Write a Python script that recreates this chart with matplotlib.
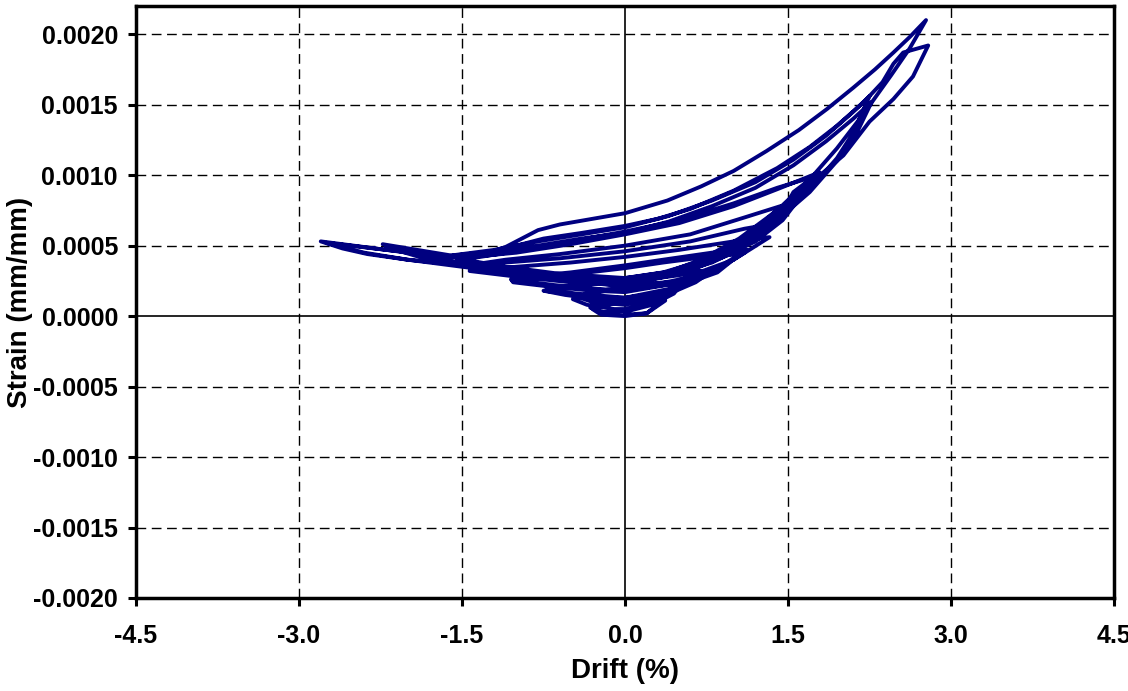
import matplotlib
matplotlib.use("Agg")
import matplotlib.pyplot as plt
import numpy as np

plt.rcParams['font.family'] = ['Liberation Sans', 'DejaVu Sans']
plt.rcParams['font.weight'] = 'bold'
plt.rcParams['axes.unicode_minus'] = False

# Drift (%) / strain (mm/mm) history, split by load stage
drift_s1 = [0.00, 0.20, 0.37, 0.30, 0.10, -0.10, -0.30, -0.22, 0.00, 0.20, 0.36, 0.25, 0.05, -0.15, -0.32, -0.20, 0.00]
strain_s1 = [0.00001, 0.00002, 0.00011, 0.00012, 0.00011, 0.00009, 0.00005, 0.00001, 0.00000, 0.00002, 0.00012, 0.00013,
             0.00012, 0.00010, 0.00006, 0.00003, 0.00003]

drift_s2 = [0.00, 0.25, 0.45, 0.52, 0.30, 0.00, -0.25, -0.48, -0.35, -0.10, 0.00, 0.25, 0.50, 0.40, 0.15, -0.15, -0.45,
            -0.30, 0.00]
strain_s2 = [0.00003, 0.00008, 0.00016, 0.00023, 0.00022, 0.00020, 0.00017, 0.00012, 0.00008, 0.00005, 0.00005, 0.00010,
             0.00023, 0.00024, 0.00023, 0.00019, 0.00014, 0.00010, 0.00008]

drift_s3 = [0.00, 0.35, 0.65, 0.78, 0.50, 0.20, -0.10, -0.45, -0.75, -0.55, -0.25, 0.00, 0.35, 0.65, 0.76, 0.45, 0.10,
            -0.30, -0.72, -0.45, -0.15, 0.00,
            0.35, 0.65, 0.77, 0.45, 0.10, -0.30, -0.74, -0.45, -0.15, 0.00]
strain_s3 = [0.00008, 0.00014, 0.00024, 0.00031, 0.00030, 0.00027, 0.00024, 0.00021, 0.00018, 0.00015, 0.00012, 0.00011,
             0.00016, 0.00026, 0.00032, 0.00032, 0.00028, 0.00024, 0.00019, 0.00016, 0.00014, 0.00013,
             0.00017, 0.00026, 0.00031, 0.00030, 0.00027, 0.00023, 0.00018, 0.00015, 0.00013, 0.00013]

drift_s4 = [0.00, 0.45, 0.85, 1.06, 0.75, 0.35, 0.00, -0.45, -0.85, -1.03, -0.70, -0.30, 0.00, 0.45, 0.85, 1.12, 0.80,
            0.35, 0.00, -0.50, -0.90, -1.05, -0.65, -0.25, 0.00,
            0.45, 0.85, 1.10, 0.80, 0.35, 0.00, -0.50, -0.90, -1.04, -0.65, -0.25, 0.00]
strain_s4 = [0.00013, 0.00020, 0.00031, 0.00044, 0.00042, 0.00038, 0.00034, 0.00030, 0.00026, 0.00024, 0.00021, 0.00018,
             0.00017, 0.00023, 0.00034, 0.00047, 0.00045, 0.00040, 0.00036, 0.00031, 0.00028, 0.00026, 0.00022, 0.00019,
             0.00018,
             0.00023, 0.00033, 0.00045, 0.00044, 0.00039, 0.00035, 0.00030, 0.00027, 0.00025, 0.00021, 0.00019, 0.00018]

drift_s5 = [0.00, 0.50, 1.00, 1.33, 1.00, 0.50, 0.00, -0.50, -1.00, -1.43, -1.00, -0.50, 0.00, 0.50, 1.00, 1.43, 1.10,
            0.60, 0.00, -0.60, -1.10, -1.45, -1.00, -0.50, 0.00,
            0.50, 1.00, 1.40, 1.10, 0.60, 0.00, -0.60, -1.10, -1.43, -1.00, -0.50, 0.00]
strain_s5 = [0.00018, 0.00026, 0.00040, 0.00056, 0.00053, 0.00047, 0.00042, 0.00038, 0.00035, 0.00032, 0.00028, 0.00024,
             0.00022, 0.00030, 0.00046, 0.00078, 0.00070, 0.00058, 0.00050, 0.00044, 0.00040, 0.00036, 0.00031, 0.00026,
             0.00024,
             0.00029, 0.00045, 0.00066, 0.00062, 0.00053, 0.00046, 0.00041, 0.00038, 0.00034, 0.00029, 0.00025, 0.00024]

drift_s6 = [0.00, 0.40, 0.80, 1.20, 1.45, 1.55, 1.62, 1.78, 1.40, 1.00, 0.50, 0.00, -0.50, -1.00, -1.50, -1.10, -0.60,
            0.00, 0.40, 0.80, 1.20, 1.45, 1.55, 1.79, 1.40, 1.00, 0.50, 0.00, -0.50, -1.00, -1.55, -1.10, -0.60, 0.00]
strain_s6 = [0.00024, 0.00029, 0.00038, 0.00053, 0.00068, 0.00078, 0.00084, 0.00100, 0.00091, 0.00080, 0.00068, 0.00060,
             0.00053, 0.00046, 0.00040, 0.00034, 0.00029, 0.00026, 0.00030, 0.00040, 0.00058, 0.00074, 0.00088, 0.00102,
             0.00090, 0.00078, 0.00066, 0.00058, 0.00051, 0.00045, 0.00041, 0.00035, 0.00030, 0.00027]

drift_s7 = [0.00, 0.35, 0.70, 1.05, 1.40, 1.70, 1.95, 2.10, 2.25, 2.10, 1.85, 1.55, 1.20, 0.80, 0.40, 0.00, -0.40, -0.80,
            -1.20, -1.60, -2.23, -1.90, -1.50, -1.00, -0.50, 0.00,
            0.35, 0.70, 1.05, 1.40, 1.70, 1.95, 2.12, 2.27, 2.10, 1.85, 1.55, 1.20, 0.80, 0.40, 0.00, -0.40, -0.80, -1.20,
            -1.70, -2.20, -1.85, -1.40, -0.80, 0.00]
strain_s7 = [0.00027, 0.00031, 0.00039, 0.00052, 0.00070, 0.00090, 0.00112, 0.00130, 0.00156, 0.00145, 0.00128, 0.00111,
             0.00095, 0.00082, 0.00071, 0.00063, 0.00058, 0.00053, 0.00047, 0.00043, 0.00051, 0.00043, 0.00038, 0.00033,
             0.00028, 0.00024,
             0.00028, 0.00036, 0.00050, 0.00068, 0.00088, 0.00110, 0.00128, 0.00152, 0.00140, 0.00124, 0.00107, 0.00091,
             0.00078, 0.00067, 0.00059, 0.00055, 0.00050, 0.00046, 0.00042, 0.00049, 0.00041, 0.00036, 0.00030, 0.00024]

drift_s8 = [0.00, 0.35, 0.70, 1.05, 1.40, 1.70, 1.95, 2.20, 2.45, 2.62, 2.77,
            2.62, 2.47, 2.30, 2.10, 1.86, 1.60, 1.30, 1.00, 0.70, 0.39, 0.00, -0.30, -0.60, -0.80, -0.95, -1.10, -1.30,
            -1.60, -2.00, -2.40, -2.80,
            -2.60, -2.37, -2.00, -1.60, -1.20, -0.80, -0.40, 0.00,
            0.35, 0.70, 1.05, 1.40, 1.78, 2.01, 2.25, 2.47, 2.65, 2.79,
            2.56, 2.47, 2.37, 2.20, 1.95, 1.70, 1.40, 1.00, 0.60, 0.30, 0.00, -0.40, -0.75, -1.00, -1.25, -1.60, -2.20,
            -2.75,
            -2.40, -2.00, -1.50, -1.00, -0.50, 0.00]
strain_s8 = [0.00024, 0.00030, 0.00040, 0.00055, 0.00075, 0.00097, 0.00119, 0.00144, 0.00171, 0.00190, 0.00210,
             0.00198, 0.00187, 0.00175, 0.00162, 0.00147, 0.00132, 0.00117, 0.00103, 0.00092, 0.00082, 0.00073, 0.00069,
             0.00065, 0.00061, 0.00055, 0.00049, 0.00044, 0.00042, 0.00045, 0.00049, 0.00053,
             0.00048, 0.00044, 0.00040, 0.00037, 0.00033, 0.00029, 0.00025, 0.00022,
             0.00028, 0.00037, 0.00052, 0.00072, 0.00099, 0.00114, 0.00138, 0.00154, 0.00170, 0.00192,
             0.00187, 0.00179, 0.00166, 0.00152, 0.00135, 0.00120, 0.00105, 0.00089, 0.00076, 0.00069, 0.00064, 0.00059,
             0.00055, 0.00050, 0.00045, 0.00042, 0.00047, 0.00052,
             0.00045, 0.00040, 0.00035, 0.00030, 0.00025, 0.00021]

x_ticks = [-4.5, -3.0, -1.5, 0.0, 1.5, 3.0, 4.5]
y_ticks = [-0.0020, -0.0015, -0.0010, -0.0005, 0.0, 0.0005, 0.0010, 0.0015, 0.0020]

drift = np.concatenate([drift_s1, drift_s2, drift_s3, drift_s4, drift_s5, drift_s6, drift_s7, drift_s8])
strain = np.concatenate([strain_s1, strain_s2, strain_s3, strain_s4, strain_s5, strain_s6, strain_s7, strain_s8])

fig = plt.figure(figsize=(11.28, 6.91), dpi=100)
ax = fig.add_axes([0.1206, 0.1346, 0.8670, 0.8567])

# grid + zero lines
for xv in x_ticks[1:-1]:
    if xv != 0:
        ax.axvline(xv, color='black', lw=1.0, ls=(0, (7, 4)), zorder=1)
for yv in y_ticks[1:]:
    if yv != 0:
        ax.axhline(yv, color='black', lw=1.0, ls=(0, (7, 4)), zorder=1)
ax.axhline(0, color='black', lw=1.2, zorder=1)
ax.axvline(0, color='black', lw=1.2, zorder=1)

ax.plot(drift, strain, color='#000080', lw=2.8, solid_joinstyle='round', zorder=3)

ax.set_xlim(-4.5, 4.5)
ax.set_ylim(-0.002, 0.0022)
ax.set_xticks(x_ticks)
ax.set_yticks(y_ticks)
ax.set_xticklabels([f'{v:.1f}' for v in x_ticks])
ax.set_yticklabels([f'{v:.4f}' for v in y_ticks])
ax.tick_params(direction='out', length=6, width=2.2, labelsize=18, pad=7)
ax.tick_params(axis='x', pad=13)

for sp in ax.spines.values():
    sp.set_linewidth(2.5)

ax.set_xlabel('Drift (%)', fontsize=20, fontweight='bold', labelpad=7)
ax.set_ylabel('Strain (mm/mm)', fontsize=20, fontweight='bold', labelpad=0)

fig.savefig('out.png', dpi=100)
